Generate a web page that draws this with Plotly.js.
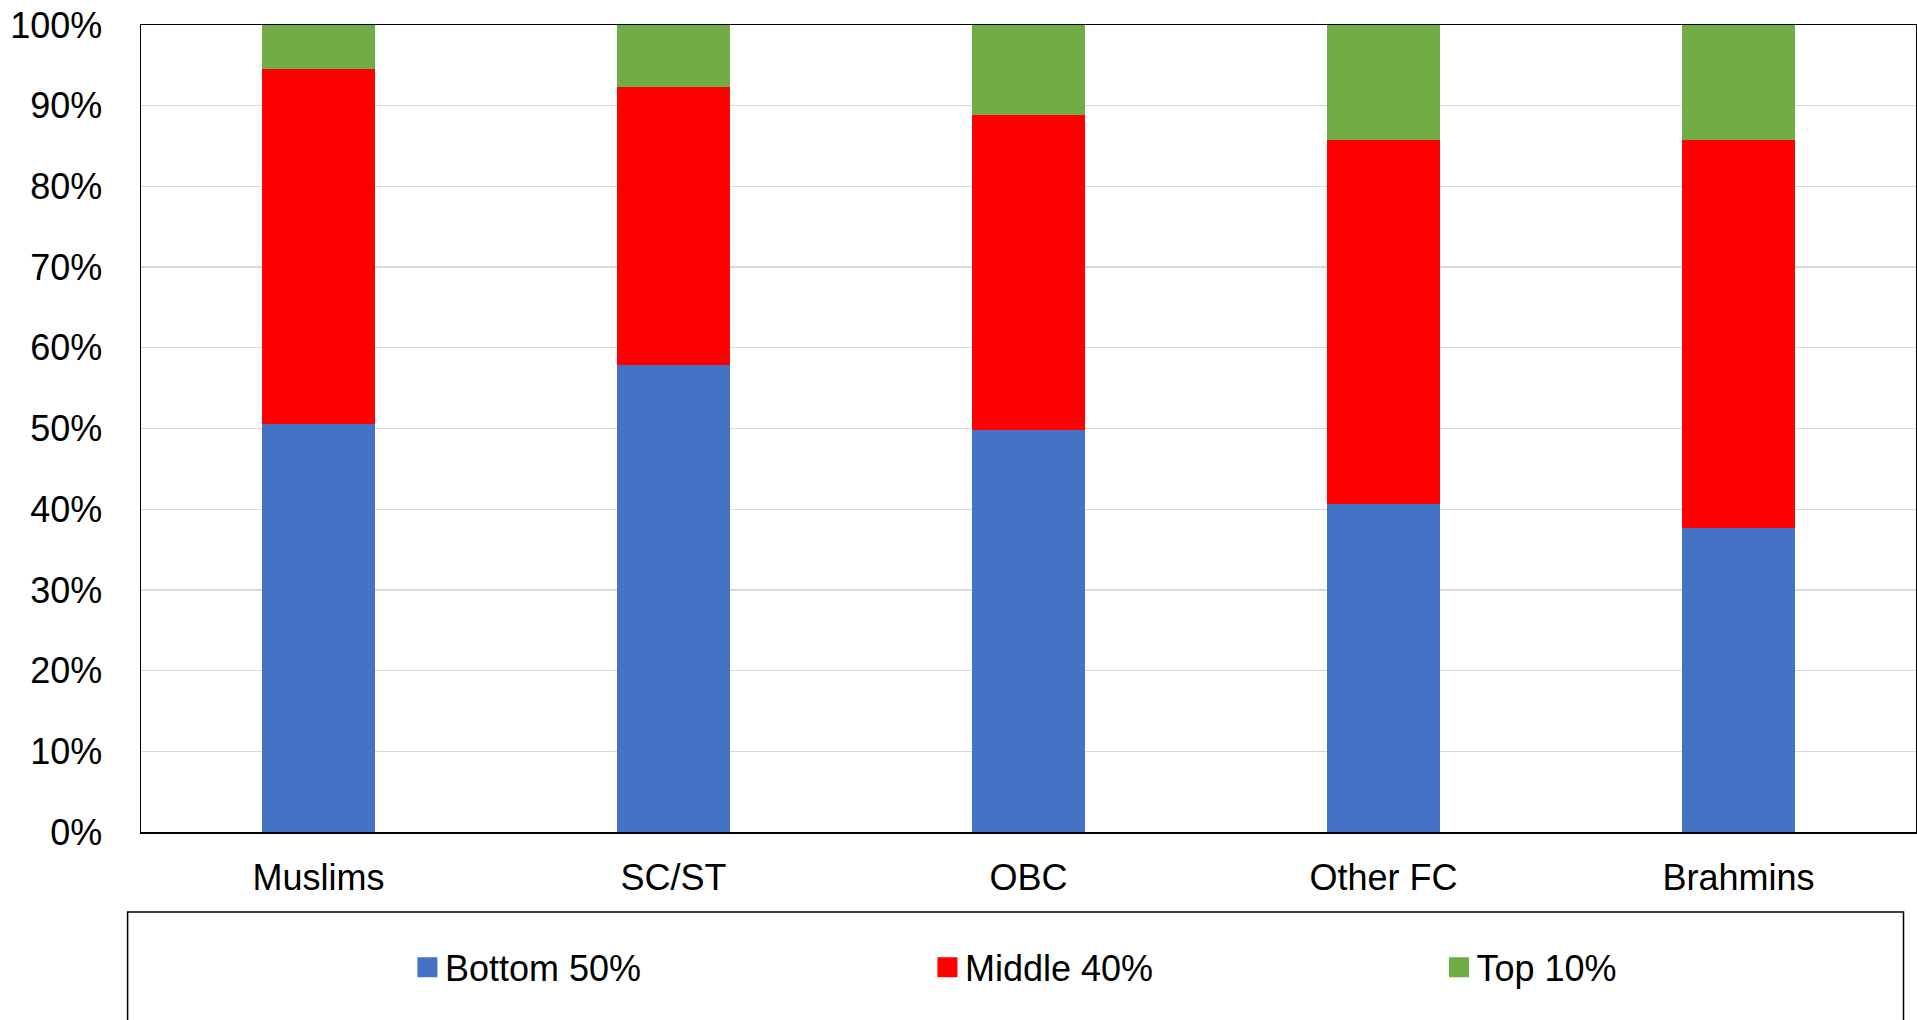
<!DOCTYPE html>
<html>
<head>
<meta charset="utf-8">
<script src="https://cdn.plot.ly/plotly-3.0.1.min.js"></script>
<style>
  html, body { margin: 0; padding: 0; background: #ffffff; }
  #chart { width: 1917px; height: 1020px; }
</style>
</head>
<body>
<div id="chart"></div>
<script>
// ---- data (percent shares) ----
const categories = ["Muslims", "SC/ST", "OBC", "Other FC", "Brahmins"];
const bottom50 = [50.5, 57.9, 49.8, 40.6, 37.7];
const middle40 = [44.0, 34.4, 39.1, 45.2, 48.0];
const top10    = [5.5, 7.7, 11.1, 14.2, 14.3];
const seriesNames = ["Bottom 50%", "Middle 40%", "Top 10%"];
const yTickVals = [0, 10, 20, 30, 40, 50, 60, 70, 80, 90, 100];
const yTickText = ["0%", "10%", "20%", "30%", "40%", "50%", "60%", "70%", "80%", "90%", "100%"];

const FONT = "Liberation Sans, Arial, Helvetica, sans-serif";
const colors = ["#4472C4", "#FF0000", "#70AD47"];

function barTrace(name, vals, color, legendId) {
  return {
    type: "bar",
    name: name,
    x: categories,
    y: vals,
    marker: { color: color, line: { width: 0 } },
    legend: legendId,
    hoverinfo: "x+y+name"
  };
}

const data = [
  barTrace(seriesNames[0], bottom50, colors[0], "legend"),
  barTrace(seriesNames[1], middle40, colors[1], "legend2"),
  barTrace(seriesNames[2], top10, colors[2], "legend3")
];

const W = 1917, H = 1020;
const mL = 141.1, mR = 1, mT = 24.5, mB = 188.4;
const plotW = W - mL - mR, plotH = H - mT - mB;
const px2x = p => (p - mL) / plotW;
const px2y = p => (H - mB - p) / plotH;

const legendCommon = {
  orientation: "h",
  xref: "paper", yref: "paper",
  xanchor: "left", yanchor: "middle",
  bgcolor: "rgba(0,0,0,0)",
  borderwidth: 0,
  font: { family: FONT, size: 36, color: "#000000" }
};

const layout = {
  width: W, height: H,
  margin: { l: mL, r: mR, t: mT, b: mB, pad: 0 },
  paper_bgcolor: "#ffffff",
  plot_bgcolor: "#ffffff",
  barmode: "stack",
  bargap: 0.6807,
  font: { family: FONT, size: 36, color: "#000000" },
  showlegend: true,
  legend:  Object.assign({}, legendCommon, { x: px2x(405), y: px2y(967) }),
  legend2: Object.assign({}, legendCommon, { x: px2x(925), y: px2y(967) }),
  legend3: Object.assign({}, legendCommon, { x: px2x(1436.5), y: px2y(967) }),
  xaxis: {
    type: "category",
    showline: true, linecolor: "#000000", linewidth: 1.5, mirror: true,
    showgrid: false, zeroline: false,
    ticks: "", ticklabelstandoff: 13,
    tickfont: { family: FONT, size: 36, color: "#000000" }
  },
  yaxis: {
    range: [0, 100],
    tickvals: yTickVals, ticktext: yTickText,
    showline: true, linecolor: "#000000", linewidth: 1.5, mirror: true,
    showgrid: true, gridcolor: "#D9D9D9", gridwidth: 1.3,
    zeroline: false,
    ticks: "", ticklabelstandoff: 30,
    tickfont: { family: FONT, size: 36, color: "#000000" }
  },
  shapes: [{
    type: "rect", xref: "paper", yref: "paper",
    x0: px2x(127.7), x1: px2x(1903.5),
    y0: px2y(911.7), y1: px2y(1035),
    line: { color: "#000000", width: 1.5 },
    fillcolor: "rgba(0,0,0,0)",
    layer: "below"
  }]
};

function enlargeLegendSymbols() {
  document.querySelectorAll("#chart .legendpoints path").forEach(p => {
    p.setAttribute("d", "M12.5,10H-7.5V-10H12.5Z");
  });
}

Plotly.newPlot("chart", data, layout, { displayModeBar: false, staticPlot: true }).then(gd => {
  enlargeLegendSymbols();
  gd.on("plotly_afterplot", enlargeLegendSymbols);
});
</script>
</body>
</html>
